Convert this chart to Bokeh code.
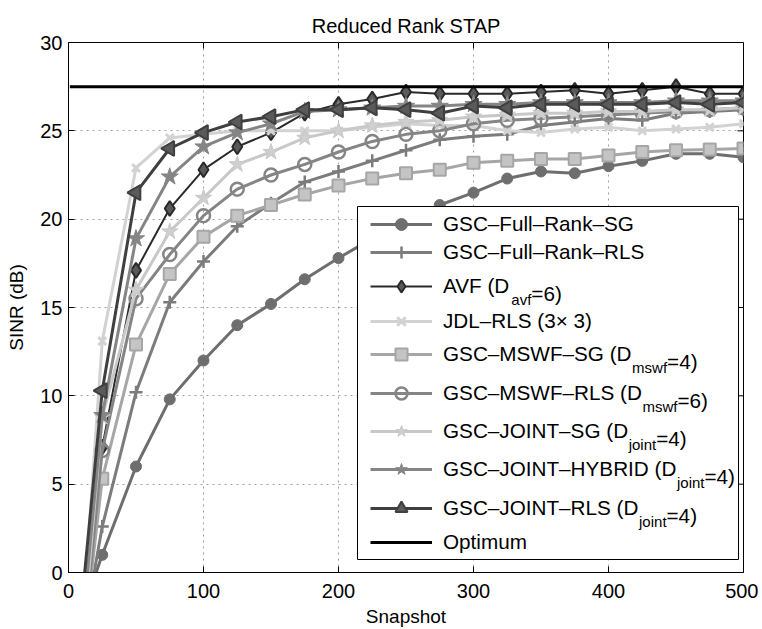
import math
from bokeh.plotting import figure
from bokeh.models import (Range1d, FixedTicker, BoxAnnotation, Label, Legend, LegendItem)
from bokeh.embed import file_html
from bokeh.resources import INLINE

# ---------------- data ----------------
snapshots = [1, 25, 50, 75, 100, 125, 150, 175, 200, 225, 250, 275, 300,
             325, 350, 375, 400, 425, 450, 475, 500]

full_rank_sg = [-4.3, 1.0, 6.0, 9.8, 12.0, 14.0, 15.2, 16.6, 17.8, 18.9, 19.9,
                20.8, 21.5, 22.3, 22.7, 22.6, 23.0, 23.3, 23.7, 23.7, 23.5]
full_rank_rls = [-7.8, 2.6, 10.2, 15.3, 17.6, 19.6, 20.9, 22.1, 22.7, 23.3, 23.9,
                 24.5, 24.7, 24.8, 25.3, 25.5, 25.7, 25.6, 26.0, 26.1, 26.2]
avf = [-9.9, 7.1, 17.1, 20.6, 22.8, 24.1, 24.9, 26.0, 26.5, 26.8, 27.2,
       27.1, 27.1, 27.1, 27.2, 27.3, 27.1, 27.3, 27.5, 27.1, 27.1]
jdl_rls = [-13.1, 13.1, 22.9, 24.6, 24.8, 25.0, 25.0, 25.0, 25.0, 25.2, 25.4,
           25.3, 25.3, 25.0, 24.9, 25.1, 25.2, 25.0, 25.1, 25.2, 25.4]
mswf_sg = [-10.6, 5.3, 12.9, 16.9, 19.0, 20.2, 20.8, 21.4, 21.9, 22.3, 22.6,
           22.8, 23.2, 23.3, 23.4, 23.4, 23.6, 23.8, 23.9, 23.95, 24.0]
mswf_rls = [-11.5, 6.9, 15.5, 18.0, 20.2, 21.7, 22.5, 23.1, 23.8, 24.4, 24.8,
            25.0, 25.4, 25.6, 25.7, 25.8, 25.9, 26.0, 26.1, 26.2, 26.3]
joint_sg = [-12.3, 8.8, 16.0, 19.3, 21.2, 23.1, 23.8, 24.6, 25.0, 25.3, 25.5,
            25.6, 25.8, 25.9, 26.0, 26.0, 26.1, 26.1, 26.2, 26.2, 26.3]
joint_hybrid = [-10.5, 8.9, 18.9, 22.4, 24.1, 24.9, 25.4, 26.1, 26.2, 26.3, 26.4,
                26.4, 26.5, 26.5, 26.6, 26.6, 26.6, 26.6, 26.7, 26.7, 26.7]
joint_rls = [-8.7, 10.3, 21.5, 24.0, 24.9, 25.5, 25.8, 26.2, 26.2, 26.3, 26.2,
             26.0, 26.4, 26.3, 26.5, 26.5, 26.5, 26.5, 26.6, 26.5, 26.6]
optimum = [27.5, 27.5, 27.5, 27.5, 27.5, 27.5, 27.5, 27.5, 27.5, 27.5, 27.5,
           27.5, 27.5, 27.5, 27.5, 27.5, 27.5, 27.5, 27.5, 27.5, 27.5]

# legend texts: (main, subscript, rest)
legend_texts = [
    ("GSC–Full–Rank–SG", "", ""),
    ("GSC–Full–Rank–RLS", "", ""),
    ("AVF (D", "avf", "=6)"),
    ("JDL–RLS (3× 3)", "", ""),
    ("GSC–MSWF–SG (D", "mswf", "=4)"),
    ("GSC–MSWF–RLS (D", "mswf", "=6)"),
    ("GSC–JOINT–SG (D", "joint", "=4)"),
    ("GSC–JOINT–HYBRID (D", "joint", "=4)"),
    ("GSC–JOINT–RLS (D", "joint", "=4)"),
    ("Optimum", "", ""),
]

x_ticks = [0, 100, 200, 300, 400, 500]
y_ticks = [0, 5, 10, 15, 20, 25, 30]
X_MIN, X_MAX = 0, 500
Y_MIN, Y_MAX = 0, 30

FONT = "Liberation Sans"

# ---------------- styles ----------------
styles = [
    dict(color="#6e6e6e", lw=3, marker="circle", size=11, fill="#6e6e6e", mlw=1, angle=0.0),
    dict(color="#7c7c7c", lw=3, marker="cross", size=13, fill=None, mlw=2.5, angle=0.0),
    dict(color="#2a2a2a", lw=2, marker="diamond", size=15, fill="#5a5a5a", mlw=2, angle=0.0),
    dict(color="#d2d2d2", lw=3, marker="x", size=11, fill=None, mlw=3, angle=0.0),
    dict(color="#a6a6a6", lw=3, marker="square", size=12, fill="#c4c4c4", mlw=2, angle=0.0),
    dict(color="#858585", lw=3, marker="circle", size=13, fill=None, mlw=2.5, angle=0.0),
    dict(color="#c8c8c8", lw=3, marker="star", size=17, fill="#cfcfcf", mlw=1, angle=0.0),
    dict(color="#858585", lw=3, marker="star", size=18, fill="#858585", mlw=1, angle=0.0),
    dict(color="#3f3f3f", lw=3, marker="triangle", size=15, fill="#5a5a5a", mlw=2, angle=math.pi / 2),
    dict(color="#000000", lw=3, marker=None, size=0, fill=None, mlw=0, angle=0.0),
]
series_values = [full_rank_sg, full_rank_rls, avf, jdl_rls, mswf_sg, mswf_rls,
                 joint_sg, joint_hybrid, joint_rls, optimum]

# ---------------- figure ----------------
FL, FR, FT, FB = 68, 743, 42, 573      # frame edges in page px
W_FIG, H_FIG = 758, 629

p = figure(width=W_FIG, height=H_FIG, x_range=Range1d(X_MIN, X_MAX), y_range=Range1d(Y_MIN, Y_MAX),
           output_backend="svg", toolbar_location=None, title="Reduced Rank STAP",
           min_border_left=FL, min_border_right=W_FIG - FR, min_border_top=FT,
           min_border_bottom=H_FIG - FB)

p.title.text_font = FONT
p.title.text_font_size = "20px"
p.title.text_font_style = "normal"
p.title.align = "center"
p.title.text_color = "#000000"
p.title.standoff = 11

p.outline_line_color = "#000000"
p.outline_line_width = 1
p.background_fill_color = "white"
p.border_fill_color = "white"

p.xaxis.ticker = FixedTicker(ticks=x_ticks)
p.xaxis.axis_label = "Snapshot"
p.xaxis.major_label_standoff = 11
p.xaxis.axis_label_standoff = 5
p.yaxis.ticker = FixedTicker(ticks=y_ticks)
p.yaxis.axis_label = "SINR (dB)"
p.yaxis.major_label_standoff = 6
p.yaxis.axis_label_standoff = 10

for ax in list(p.xaxis) + list(p.yaxis):
    ax.axis_label_text_font = FONT
    ax.axis_label_text_font_size = "19px"
    ax.axis_label_text_font_style = "normal"
    ax.major_label_text_font = FONT
    ax.major_label_text_font_size = "20px"
    ax.major_tick_in = 6
    ax.major_tick_out = 0
    ax.minor_tick_in = 0
    ax.minor_tick_out = 0
    ax.axis_line_color = "#000000"
    ax.major_tick_line_color = "#000000"
    ax.major_label_text_color = "#000000"
    ax.axis_label_text_color = "#000000"

p.xgrid.ticker = FixedTicker(ticks=x_ticks)
p.ygrid.ticker = FixedTicker(ticks=y_ticks)
for g in (p.xgrid, p.ygrid):
    g.grid_line_color = "#a0a0a0"
    g.grid_line_dash = "2 4"
    g.grid_line_width = 1

# inner ticks on the top and right edges (box style), lengths of 6 px
tick_px = 6
dy_tick = tick_px * (Y_MAX - Y_MIN) / (FB - FT)
dx_tick = tick_px * (X_MAX - X_MIN) / (FR - FL)
p.segment(x0=x_ticks, y0=[Y_MAX] * len(x_ticks), x1=x_ticks, y1=[Y_MAX - dy_tick] * len(x_ticks),
          line_color="#000000", line_width=1)
p.segment(x0=[X_MAX] * len(y_ticks), y0=y_ticks, x1=[X_MAX - dx_tick] * len(y_ticks), y1=y_ticks,
          line_color="#000000", line_width=1)

# ---------------- series ----------------
renderers = []
for vals, st in zip(series_values, styles):
    rs = [p.line(snapshots, vals, line_color=st["color"], line_width=st["lw"])]
    if st["marker"]:
        kw = dict(marker=st["marker"], size=st["size"], line_color=st["color"],
                  line_width=st["mlw"], angle=st["angle"])
        if st["fill"]:
            kw["fill_color"] = st["fill"]
        else:
            kw["fill_alpha"] = 0
        rs.append(p.scatter(snapshots, vals, **kw))
    renderers.append(rs)


# ---------------- legend (one legend per row, to allow subscripts) ----------------
def fx(px):
    return px - FL


def fy(py):
    return FB - py


box = BoxAnnotation(left=fx(357), right=fx(738), top=fy(207), bottom=fy(560),
                    left_units="screen", right_units="screen",
                    top_units="screen", bottom_units="screen",
                    fill_color="white", fill_alpha=1.0,
                    line_color="#000000", line_width=1, line_alpha=1.0)
p.add_layout(box)

row_y = [225, 253, 287, 322, 355, 394, 432, 470, 509, 543]

WID = {' ': 278, '(': 333, ')': 333, '=': 584, '3': 556, '4': 556, '6': 556, '×': 584,
       '–': 556, 'A': 667, 'B': 667, 'C': 722, 'D': 722, 'F': 611, 'G': 778, 'H': 722,
       'I': 278, 'J': 500, 'L': 556, 'M': 833, 'N': 722, 'O': 778, 'R': 722, 'S': 667,
       'T': 611, 'W': 944, 'Y': 667, 'V': 667, 'a': 556, 'f': 278, 'i': 222, 'j': 222,
       'k': 500, 'l': 222, 'm': 833, 'n': 556, 'o': 556, 'p': 556, 's': 500, 't': 278,
       'u': 556, 'v': 500, 'w': 722, 'e': 556, 'd': 556}


def tw(s, size):
    return sum(WID.get(c, 556) for c in s) * size / 1000.0


LEG_FS = 20.7
SUB_FS = 15.0
SAMPLE_X0 = 370
SAMPLE_W = 62
TEXT_X = 443
GLYPH_H = 30

for rs, (main, sub, rest), yc in zip(renderers, legend_texts, row_y):
    lg = Legend(items=[LegendItem(label=main, renderers=rs)],
                location=(fx(SAMPLE_X0), fy(yc) - GLYPH_H / 2),
                glyph_width=SAMPLE_W, glyph_height=GLYPH_H, padding=0, margin=0,
                label_text_font=FONT, label_text_font_size=f"{LEG_FS}px",
                label_text_color="#000000",
                label_standoff=TEXT_X - SAMPLE_X0 - SAMPLE_W, label_height=GLYPH_H,
                border_line_alpha=0, background_fill_alpha=0)
    p.add_layout(lg)
    if sub:
        base = fy(yc + 7)
        xs = TEXT_X + tw(main, LEG_FS)
        p.add_layout(Label(x=fx(xs), y=base - 6, x_units="screen", y_units="screen",
                           text=sub, text_font=FONT, text_font_size=f"{SUB_FS}px",
                           text_baseline="alphabetic", text_align="left",
                           text_color="#000000"))
        xr = xs + tw(sub, SUB_FS)
        p.add_layout(Label(x=fx(xr), y=base, x_units="screen", y_units="screen",
                           text=rest, text_font=FONT, text_font_size=f"{LEG_FS}px",
                           text_baseline="alphabetic", text_align="left",
                           text_color="#000000"))

open("out.html", "w").write(file_html(p, INLINE))
